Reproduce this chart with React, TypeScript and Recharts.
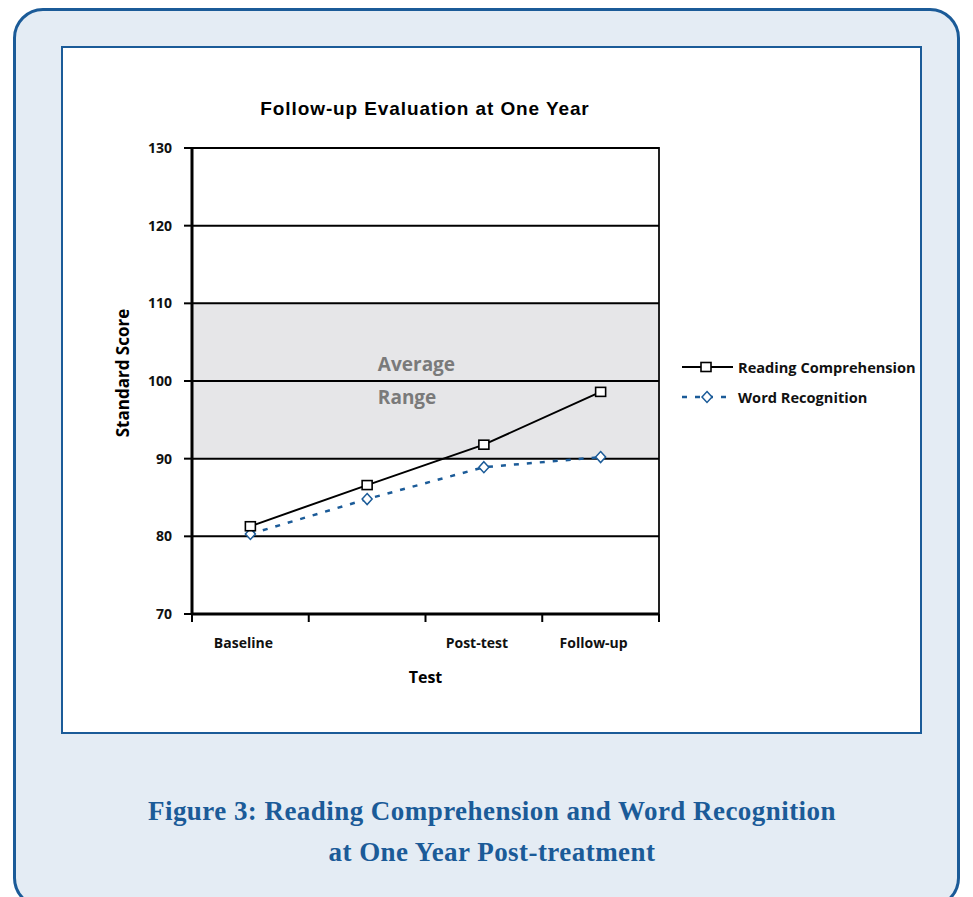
import React from 'react';
import {
  LineChart,
  Line,
  XAxis,
  YAxis,
  ReferenceArea,
  ReferenceLine,
} from 'recharts';

// ---- data ----
const categories = ['Baseline', '', 'Post-test', 'Follow-up'];
const readingComprehension = [81.3, 86.6, 91.8, 98.6];
const wordRecognition = [80.3, 84.8, 88.9, 90.2];
const yTicks = [70, 80, 90, 100, 110, 120, 130];
const gridValues = [80, 90, 100, 110, 120, 130];
const yDomain = [70, 130];
const averageRange = [90, 110];
const seriesNames = ['Reading Comprehension', 'Word Recognition'];

const chartData = categories.map((c, i) => ({
  test: c,
  rc: readingComprehension[i],
  wr: wordRecognition[i],
}));

const BLUE = '#1b5b98';
const SANS = '"Open Sans", "DejaVu Sans", sans-serif';

const SquareDot = (props: any) => {
  const { cx, cy } = props;
  if (cx == null || cy == null) return null;
  return (
    <rect x={cx - 5} y={cy - 4.5} width={10} height={9} fill="#fff" stroke="#000" strokeWidth={1.6} />
  );
};

const DiamondDot = (props: any) => {
  const { cx, cy } = props;
  if (cx == null || cy == null) return null;
  return (
    <polygon
      points={`${cx},${cy - 5.5} ${cx + 5},${cy} ${cx},${cy + 5.5} ${cx - 5},${cy}`}
      fill="#fff"
      stroke={BLUE}
      strokeWidth={1.5}
    />
  );
};

// category tick: label at band centre, tick marks at band boundaries
const CategoryTick = (props: any) => {
  const { x, y, payload, index, visibleTicksCount } = props;
  const half = payload?.offset ?? 0;
  const axisY = y - 24;
  const last = index === (visibleTicksCount ?? categories.length) - 1;
  return (
    <g>
      <line x1={x - half} y1={axisY} x2={x - half} y2={axisY + 8} stroke="#000" strokeWidth={2} />
      {last && (
        <line x1={x + half} y1={axisY} x2={x + half} y2={axisY + 8} stroke="#000" strokeWidth={2} />
      )}
      <text
        x={x - 7}
        y={y}
        dy="0.71em"
        textAnchor="middle"
        style={{ fontFamily: SANS, fontWeight: 700, fontSize: 14, fill: '#111' }}
      >
        {payload?.value}
      </text>
    </g>
  );
};

const RangeLabel = (props: any) => {
  const vb = props.viewBox || {};
  const x = (vb.x ?? 0) + vb.width * 0.398;
  const y = vb.y ?? 0;
  const style = { fontFamily: SANS, fontWeight: 700, fontSize: 19, fill: '#7a7a7a' } as any;
  return (
    <g>
      <text x={x} y={y + 68} style={style}>Average</text>
      <text x={x} y={y + 101} style={style}>Range</text>
    </g>
  );
};

const YLabel = (props: any) => {
  const vb = props.viewBox || {};
  const cx = (vb.x ?? 0) - 10;
  const cy = (vb.y ?? 0) + (vb.height ?? 0) / 2 - 8;
  return (
    <text
      x={cx}
      y={cy}
      transform={`rotate(-90, ${cx}, ${cy})`}
      textAnchor="middle"
      dominantBaseline="central"
      style={{ fontFamily: SANS, fontWeight: 700, fontSize: 17, fill: '#000' }}
    >
      Standard Score
    </text>
  );
};

const LegendRow = ({ name, kind }: { name: string; kind: 'square' | 'diamond' }) => (
  <div style={{ display: 'flex', alignItems: 'center', height: 30 }}>
    <svg width={57} height={16} style={{ display: 'block' }}>
      {kind === 'square' ? (
        <>
          <line x1={2} y1={8} x2={53} y2={8} stroke="#000" strokeWidth={2} />
          <rect x={21} y={3.5} width={10} height={9} fill="#fff" stroke="#000" strokeWidth={1.6} />
        </>
      ) : (
        <>
          <line x1={2} y1={8} x2={53} y2={8} stroke={BLUE} strokeWidth={2.5} strokeDasharray="5 8" />
          <polygon points="27,2.5 32,8 27,13.5 22,8" fill="#fff" stroke={BLUE} strokeWidth={1.5} />
        </>
      )}
    </svg>
    <span
      style={{
        fontFamily: SANS,
        fontWeight: 700,
        fontSize: 14.6,
        color: '#111',
        marginLeft: 1,
        whiteSpace: 'nowrap',
      }}
    >
      {name}
    </span>
  </div>
);

export default function App() {
  return (
    <div
      style={{
        position: 'absolute',
        left: 0,
        top: 0,
        width: 973,
        height: 897,
        overflow: 'hidden',
        background: '#fff',
      }}
    >
      {/* outer rounded panel */}
      <div
        style={{
          position: 'absolute',
          left: 13,
          top: 8,
          width: 947,
          height: 900,
          boxSizing: 'border-box',
          border: `3px solid ${BLUE}`,
          borderRadius: 30,
          background: '#e4ecf4',
        }}
      />
      {/* inner white box */}
      <div
        style={{
          position: 'absolute',
          left: 61,
          top: 46,
          width: 861,
          height: 688,
          boxSizing: 'border-box',
          border: `2.5px solid ${BLUE}`,
          background: '#fff',
        }}
      />
      {/* title */}
      <div
        style={{
          position: 'absolute',
          left: 125,
          width: 600,
          top: 96,
          textAlign: 'center',
          fontFamily: '"Liberation Sans", Arial, sans-serif',
          fontWeight: 700,
          fontSize: 19,
          letterSpacing: 0.9,
          lineHeight: '26px',
          color: '#000',
        }}
      >
        Follow-up Evaluation at One Year
      </div>

      <div style={{ position: 'absolute', left: 0, top: 0 }}>
        <LineChart
          width={973}
          height={897}
          data={chartData}
          margin={{ top: 148, right: 314, left: 132, bottom: 253 }}
        >
          <XAxis
            dataKey="test"
            type="category"
            scale="band"
            height={30}
            axisLine={{ stroke: '#000', strokeWidth: 3 }}
            tickLine={false}
            tickSize={0}
            tickMargin={24}
            interval={0}
            tick={<CategoryTick />}
            label={{
              value: 'Test',
              position: 'bottom',
              offset: 28,
              style: { fontFamily: SANS, fontWeight: 700, fontSize: 16, fill: '#000' },
            }}
          />
          <YAxis
            domain={yDomain}
            ticks={yTicks}
            width={60}
            interval={0}
            tickSize={8}
            tickMargin={12}
            tickLine={{ stroke: '#000', strokeWidth: 2 }}
            axisLine={{ stroke: '#000', strokeWidth: 3 }}
            tick={{ fontFamily: SANS, fontWeight: 700, fontSize: 14, fill: '#111' }}
            label={<YLabel />}
          />
          <ReferenceArea
            y1={averageRange[0]}
            y2={averageRange[1]}
            fill="#e6e6e8"
            fillOpacity={1}
            stroke="none"
            label={<RangeLabel />}
          />
          {/* plot frame (right border) */}
          <ReferenceArea
            y1={yDomain[0]}
            y2={yDomain[1]}
            fill="none"
            fillOpacity={0}
            stroke="#222"
            strokeWidth={2}
          />
          {gridValues.map((v) => (
            <ReferenceLine key={v} y={v} stroke="#000" strokeWidth={2} />
          ))}
          <Line
            dataKey="wr"
            name={seriesNames[1]}
            stroke={BLUE}
            strokeWidth={2.5}
            strokeDasharray="5 8"
            dot={<DiamondDot />}
            activeDot={false}
            isAnimationActive={false}
          />
          <Line
            dataKey="rc"
            name={seriesNames[0]}
            stroke="#000"
            strokeWidth={2}
            dot={<SquareDot />}
            activeDot={false}
            isAnimationActive={false}
          />
        </LineChart>
      </div>

      {/* legend */}
      <div style={{ position: 'absolute', left: 680, top: 352 }}>
        <LegendRow name={seriesNames[0]} kind="square" />
        <LegendRow name={seriesNames[1]} kind="diamond" />
      </div>

      {/* caption */}
      <div
        style={{
          position: 'absolute',
          left: 92,
          width: 800,
          top: 791,
          textAlign: 'center',
          fontFamily: '"Liberation Serif", "Times New Roman", serif',
          fontWeight: 700,
          fontSize: 27,
          letterSpacing: 0.45,
          lineHeight: '41px',
          color: BLUE,
        }}
      >
        Figure 3: Reading Comprehension and Word Recognition
        <br />
        at One Year Post-treatment
      </div>
    </div>
  );
}
